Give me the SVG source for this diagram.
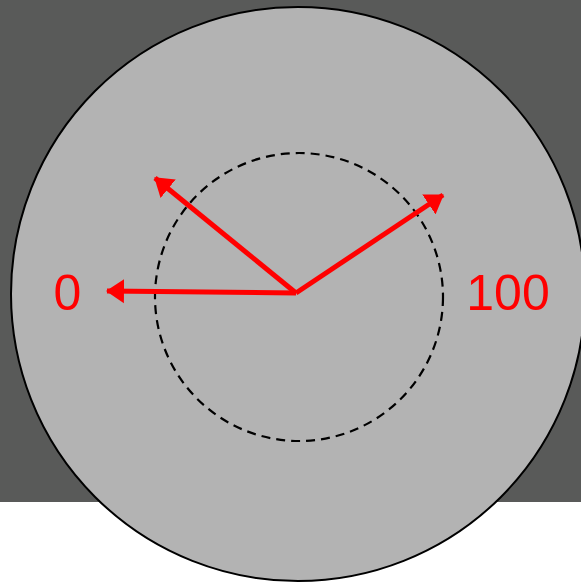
<svg xmlns="http://www.w3.org/2000/svg" width="581" height="586" viewBox="0 0 581 586">
<style>
.lbl{font-family:"Liberation Sans",Arial,sans-serif;font-size:50px;fill:#ff0000}
.arr{stroke:#ff0000;stroke-width:5;fill:none;marker-end:url(#ah)}
</style>
<defs>
<marker id="ah" markerUnits="userSpaceOnUse" markerWidth="20" markerHeight="26" viewBox="0 0 20 26" refX="17" refY="13" orient="auto">
<path d="M0,1 L18,13 L0,25 Z" fill="#ff0000"/>
</marker>
</defs>
<rect x="0" y="0" width="581" height="502" fill="#595a59"/>
<g id="dial">
<circle cx="298" cy="294" r="287" fill="#b3b3b3" stroke="#000" stroke-width="2"/>
<circle cx="299" cy="297" r="144" fill="none" stroke="#000" stroke-width="2.2" stroke-dasharray="9,6"/>
</g>
<g id="connectors">
<line class="arr" x1="296" y1="293" x2="107" y2="291"/>
<line class="arr" x1="296" y1="293" x2="155" y2="178"/>
<line class="arr" x1="296" y1="293" x2="443" y2="195"/>
</g>
<g id="labels">
<text class="lbl" x="67.5" y="310" text-anchor="middle">0</text>
<text class="lbl" x="508" y="310" text-anchor="middle">100</text>
</g>
</svg>
